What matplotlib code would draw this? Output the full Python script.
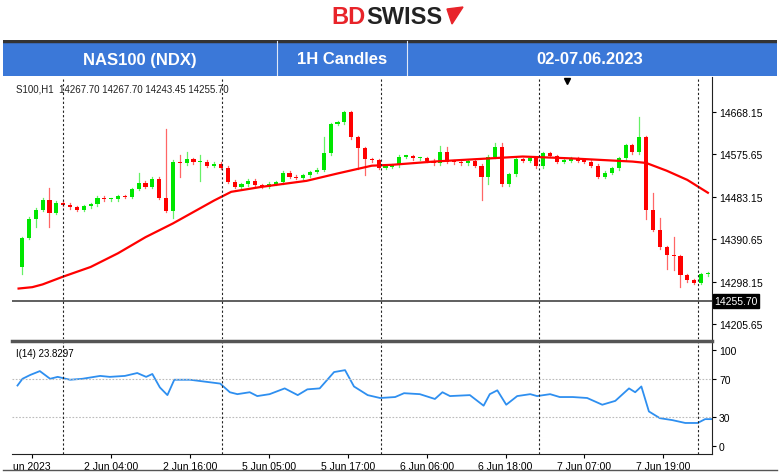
import matplotlib
matplotlib.use("Agg")
import matplotlib.pyplot as plt
from matplotlib.patches import Rectangle, Polygon

# ---- data ----
first_open = 14329
closes = [14393, 14435, 14455, 14477, 14448, 14470, 14466, 14460, 14455, 14462,
          14467, 14481, 14478, 14478, 14485, 14483, 14500, 14514, 14505, 14523,
          14481, 14452, 14560, 14556, 14565, 14558, 14560, 14551, 14555, 14547,
          14516, 14505, 14510, 14518, 14508, 14505, 14512, 14515, 14536, 14527,
          14524, 14530, 14537, 14542, 14578, 14642, 14646, 14668, 14613, 14589,
          14565, 14563, 14547, 14549, 14552, 14571, 14572, 14567, 14567, 14562,
          14556, 14580, 14560, 14558, 14556, 14561, 14551, 14527, 14571, 14591,
          14510, 14532, 14565, 14562, 14567, 14550, 14578, 14572, 14560, 14562,
          14566, 14561, 14560, 14551, 14527, 14536, 14545, 14567, 14596, 14580,
          14613, 14455, 14411, 14373, 14356, 14354, 14312, 14301, 14296, 14314, 14316]
# upper / lower wick lengths (points) for candles with visible wicks
upper_wicks = {4: 25, 17: 20, 21: 150, 23: 15, 24: 15, 26: 15, 44: 35, 61: 15,
               62: 12, 69: 10, 70: 10, 90: 44, 92: 37, 93: 25, 95: 40}
lower_wicks = {0: 14, 2: 18, 4: 30, 22: 15, 23: 30, 26: 40, 49: 45, 50: 35,
               67: 50, 68: 15, 91: 20, 94: 30, 95: 30, 96: 25}

ma_idx = [-0.5, 1.5, 3, 6, 10, 14, 18, 22, 25, 28, 30.5, 35, 41.5, 46, 51, 54, 60,
          73, 80, 89, 91, 94, 97, 100]
ma_val = [14283, 14286, 14292, 14309, 14330, 14360, 14395, 14425, 14450, 14475,
          14494, 14505, 14518, 14534, 14551, 14553, 14560, 14571, 14567, 14560,
          14557, 14540, 14520, 14492]

rsi_idx = [-0.66, 0.07, 1.2, 2.6, 4.1, 5.2, 7.0, 8.8, 11.4, 12.8, 15.0, 16.8, 18.1,
           19.0, 20.1, 21.2, 22.2, 24.5, 26.7, 28.9, 30.3, 31.4, 33.2, 34.3, 36.1,
           38.3, 40.2, 41.6, 43.4, 45.5, 47.1, 48.4, 50.4, 52.2, 54.4, 55.7, 58.0,
           60.2, 61.3, 62.4, 65.3, 67.3, 68.2, 69.3, 70.6, 72.2, 74.1, 75.1, 77.0,
           78.4, 80.3, 82.4, 84.6, 86.5, 88.5, 89.4, 90.3, 91.4, 93.0, 94.8, 96.7,
           98.5, 99.6, 100.7]
rsi_val = [63, 70, 74, 78, 70, 72, 69, 70, 73, 72, 73, 76, 72, 75, 61, 53, 69, 69,
           67, 65, 56, 54, 56, 52, 54, 60, 53, 59, 60, 77, 79, 62, 53, 50, 51, 55,
           54, 49, 56, 52, 53, 42, 54, 58, 43, 52, 54, 52, 54, 51, 51, 50, 43, 47,
           60, 56, 62, 36, 29, 27, 24, 24, 28, 28]

price_ticks = [14668.15, 14575.65, 14483.15, 14390.65, 14298.15, 14205.65]
last_price = 14255.70
rsi_ticks = [100, 70, 30, 0]
xtick_pos = [1.5, 13.0, 24.5, 36.0, 47.5, 59.0, 70.5, 82.0, 93.5]
xtick_labels = ["un 2023", "2 Jun 04:00", "2 Jun 16:00", "5 Jun 05:00", "5 Jun 17:00",
                "6 Jun 06:00", "6 Jun 18:00", "7 Jun 07:00", "7 Jun 19:00"]
vline_pos = [6.0, 29.1, 52.3, 75.4, 98.5]

W, H = 780, 477
GREEN, RED, BLUE = "#00e600", "#ff0000", "#2e8ff0"


def box(l, t, r, b):
    return [l / W, 1 - b / H, (r - l) / W, (b - t) / H]


fig = plt.figure(figsize=(7.8, 4.77), dpi=100)
plt.rcParams['font.family'] = ['Liberation Sans', 'DejaVu Sans']

# logo
fig.text(366 / W, 1 - 18 / H, "BD", color="#e8242a", fontsize=17, fontweight="bold",
         ha="right", va="center")
fig.text(366 / W, 1 - 18 / H, "SWISS", color="#222222", fontsize=17, fontweight="bold",
         ha="left", va="center")
fig.patches.append(Polygon([[447 / W, 1 - 10 / H], [463 / W, 1 - 8 / H], [452 / W, 1 - 25 / H]],
                           closed=True, color="#e8242a", transform=fig.transFigure))

# header band
hb = fig.add_axes(box(3, 41, 777, 77))
hb.set_xlim(3, 777)
hb.set_ylim(77, 41)
hb.axis("off")
hb.add_patch(Rectangle((3, 41), 774, 36, color="#3b78d8"))
hb.plot([3, 777], [42, 42], color="#333333", lw=2.5)
for xd in [277, 407]:
    hb.plot([xd, xd], [42, 77], color="#dfe8f7", lw=0.8)
for xt, s in [(140, "NAS100 (NDX)"), (342, "1H Candles"), (590, "02-07.06.2023")]:
    hb.text(xt, 60, s, color="white", fontsize=12, fontweight="bold", ha="center", va="center")

XL = (-1.46, 100.6)

# main price panel
ax = fig.add_axes(box(12, 78, 712, 340))
ax.set_xlim(*XL)
ax.set_ylim(14172.9, 14744.5)
opens = [first_open] + closes[:-1]
for i, (o, c) in enumerate(zip(opens, closes)):
    col = GREEN if c >= o else RED
    hi = max(o, c) + upper_wicks.get(i, 3)
    lo = min(o, c) - lower_wicks.get(i, 3)
    ax.plot([i, i], [lo, hi], color=col, lw=0.9, alpha=0.6)
    h = max(abs(c - o), 2.5)
    ax.add_patch(Rectangle((i - 0.3, min(o, c)), 0.6, h, color=col, lw=0))
ax.plot(ma_idx, ma_val, color=RED, lw=1.6)
ax.axhline(last_price, color="#444444", lw=1.2)
for v in vline_pos:
    ax.axvline(v, color="#222222", lw=0.8, ls=(0, (2, 2)))
ax.plot([79.4], [14735], marker="v", color="black", ms=5)
ax.text(0.005, 0.955, "S100,H1  14267.70 14267.70 14243.45 14255.70", transform=ax.transAxes,
        fontsize=7, va="center", ha="left", color="#222222")
ax.yaxis.tick_right()
ax.set_yticks(price_ticks)
ax.set_yticklabels(["%.2f" % p for p in price_ticks], fontsize=7.5)
ax.tick_params(axis="y", length=3, pad=2)
ax.set_xticks([])
for s in ["top", "left", "bottom"]:
    ax.spines[s].set_visible(False)
ax.spines["right"].set_color("#222222")
ax.text(1.003, (last_price - 14172.9) / (14744.5 - 14172.9), "%.2f" % last_price,
        transform=ax.transAxes, fontsize=7.5, color="white", va="center", ha="left",
        bbox=dict(boxstyle="square,pad=0.15", fc="black", ec="black"))

# separator
fig.add_artist(plt.Line2D([12 / W, 712 / W], [1 - 342 / H] * 2, color="#555555", lw=2.5))

# RSI panel
ra = fig.add_axes(box(12, 343, 712, 455))
ra.set_xlim(*XL)
ra.set_ylim(-8.3, 108.3)
ra.plot(rsi_idx, rsi_val, color=BLUE, lw=1.3)
for lv in [70, 30]:
    ra.axhline(lv, color="#bbbbbb", lw=0.8, ls=(0, (1.5, 1.5)))
for v in vline_pos:
    ra.axvline(v, color="#222222", lw=0.8, ls=(0, (2, 2)))
ra.text(0.005, 0.9, "I(14) 23.8297", transform=ra.transAxes, fontsize=7, va="center")
ra.yaxis.tick_right()
ra.set_yticks(rsi_ticks)
ra.set_yticklabels([str(t) for t in rsi_ticks], fontsize=7.5)
ra.tick_params(axis="y", length=3, pad=2)
ra.set_xticks(xtick_pos)
ra.set_xticklabels(xtick_labels, fontsize=7.5)
ra.tick_params(axis="x", length=3, pad=2)
ra.spines["top"].set_visible(False)
ra.spines["left"].set_visible(False)
ra.spines["right"].set_color("#222222")
ra.spines["bottom"].set_color("#222222")

fig.add_artist(plt.Line2D([3 / W, 777 / W], [1 - 471 / H] * 2, color="#555555", lw=1))

fig.savefig("out.png", dpi=100, facecolor="white")
